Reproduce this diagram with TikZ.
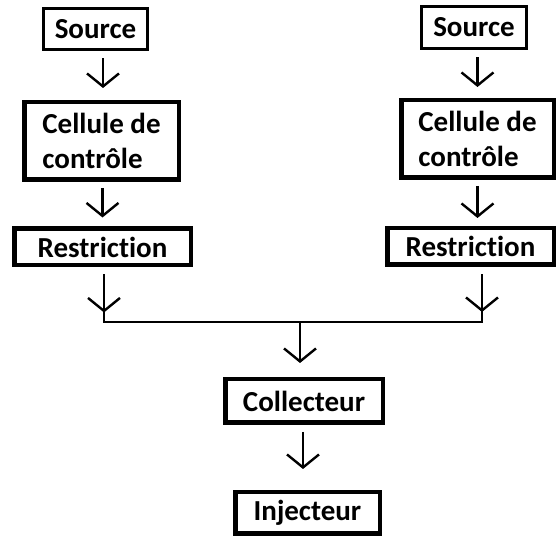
\documentclass[tikz,border=0pt]{standalone}
\usepackage{fontspec}
\setmainfont{Carlito}[Ligatures=NoCommon]
\usetikzlibrary{arrows.meta}
\begin{document}
\begin{tikzpicture}[x=1pt,y=-1pt,
  thickbox/.style={draw=black,line width=4.5pt,inner sep=0pt,font=\fontsize{29}{35}\selectfont\bfseries,align=left},
  thinbox/.style={draw=black,line width=2.6pt,inner sep=0pt,font=\fontsize{29}{35}\selectfont\bfseries},
  link/.style={draw=black,line width=2.4pt},
  arr/.style={link,-{Straight Barb[length=13pt,width=32pt]}}]
\useasboundingbox (0,0) rectangle (558,537);
% boxes (centres and outer sizes minus line width)
\node[thinbox,minimum width=104.5pt,minimum height=41.5pt] (srcL) at (95.5,29) {Source};
\node[thickbox,minimum width=154.5pt,minimum height=77.5pt] (cellL) at (101.5,141) {Cellule de\\contrôle};
\node[thickbox,minimum width=176.5pt,minimum height=36.5pt] (restrL) at (102.5,247) {Restriction};
\node[thinbox,minimum width=105.5pt,minimum height=42.5pt] (srcR) at (474,27.5) {Source};
\node[thickbox,minimum width=152.5pt,minimum height=77.5pt] (cellR) at (477.5,139) {Cellule de\\contrôle};
\node[thickbox,minimum width=166.5pt,minimum height=36.5pt] (restrR) at (470.5,246.5) {Restriction};
\node[thickbox,minimum width=157.5pt,minimum height=43.5pt] (coll) at (304,401) {Collecteur};
\node[thickbox,minimum width=144.5pt,minimum height=41.5pt] (inj) at (307.5,513) {Injecteur};
% junction points
\coordinate (jL) at (104,322);
\coordinate (jR) at (482,322);
\coordinate (jM) at (300,322);
% arrows
\draw[arr,shorten <=7pt,shorten >=12pt] (srcL.south -| 103,0) -- (cellL.north -| 103,0);
\draw[arr,shorten <=6pt,shorten >=9pt] (cellL.south -| restrL.north) -- (restrL.north);
\draw[arr,shorten <=7pt,shorten >=11pt] (srcR.south -| cellR.north) -- (cellR.north);
\draw[arr,shorten <=6pt,shorten >=8pt] (cellR.south) -- (cellR.south |- restrR.north);
% merge
\draw[link,line cap=rect] (jL |- restrL.south) ++(0,8) -- (jL) -- (jR);
\draw[link,line cap=rect] (jR |- restrR.south) ++(0,8) -- (jR);
\draw[arr] (jL |- restrL.south) ++(0,8) -- ++(0,37);
\draw[arr] (jR |- restrR.south) ++(0,8) -- ++(0,37);
\draw[arr,shorten >=14pt] (jM) -- (jM |- coll.north);
\draw[arr,shorten <=7pt,shorten >=21pt] (coll.south -| 303,0) -- (inj.north -| 303,0);
\end{tikzpicture}
\end{document}
